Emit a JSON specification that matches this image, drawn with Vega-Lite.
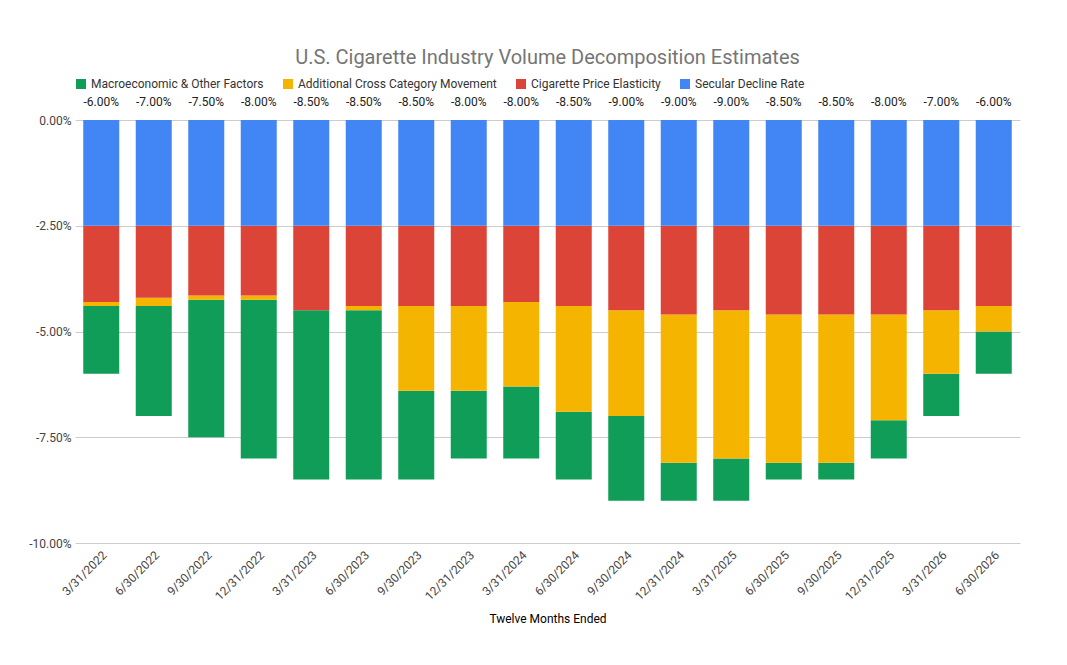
{
"$schema":"https://vega.github.io/schema/vega-lite/v6.json",
"width":945,"height":423,
"padding":{"left":28,"top":48,"right":25,"bottom":10},
"background":"white",
"title":{"text":"U.S. Cigarette Industry Volume Decomposition Estimates","font":"Roboto","fontSize":20,"fontWeight":"normal","color":"#757575","offset":10},
"config":{"font":"Roboto","view":{"stroke":null},"locale":{"number":{"decimal":".","thousands":",","grouping":[3],"currency":["$",""],"minus":"-"}}},
"datasets":{"raw":[
{"d":"3/31/2022","s":-0.025,"p":-0.018,"a":-0.001,"m":-0.016},
{"d":"6/30/2022","s":-0.025,"p":-0.017,"a":-0.002,"m":-0.026},
{"d":"9/30/2022","s":-0.025,"p":-0.0165,"a":-0.001,"m":-0.0325},
{"d":"12/31/2022","s":-0.025,"p":-0.0165,"a":-0.001,"m":-0.0375},
{"d":"3/31/2023","s":-0.025,"p":-0.02,"a":0,"m":-0.04},
{"d":"6/30/2023","s":-0.025,"p":-0.019,"a":-0.001,"m":-0.04},
{"d":"9/30/2023","s":-0.025,"p":-0.019,"a":-0.02,"m":-0.021},
{"d":"12/31/2023","s":-0.025,"p":-0.019,"a":-0.02,"m":-0.016},
{"d":"3/31/2024","s":-0.025,"p":-0.018,"a":-0.02,"m":-0.017},
{"d":"6/30/2024","s":-0.025,"p":-0.019,"a":-0.025,"m":-0.016},
{"d":"9/30/2024","s":-0.025,"p":-0.02,"a":-0.025,"m":-0.02},
{"d":"12/31/2024","s":-0.025,"p":-0.021,"a":-0.035,"m":-0.009},
{"d":"3/31/2025","s":-0.025,"p":-0.02,"a":-0.035,"m":-0.01},
{"d":"6/30/2025","s":-0.025,"p":-0.021,"a":-0.035,"m":-0.004},
{"d":"9/30/2025","s":-0.025,"p":-0.021,"a":-0.035,"m":-0.004},
{"d":"12/31/2025","s":-0.025,"p":-0.021,"a":-0.025,"m":-0.009},
{"d":"3/31/2026","s":-0.025,"p":-0.02,"a":-0.015,"m":-0.01},
{"d":"6/30/2026","s":-0.025,"p":-0.019,"a":-0.006,"m":-0.01}
]},
"data":{"name":"raw"},
"transform":[
{"fold":["m","a","p","s"],"as":["k","value"]},
{"lookup":"k","from":{"data":{"values":[
{"k":"m","f":"Macroeconomic & Other Factors","o":4},
{"k":"a","f":"Additional Cross Category Movement","o":3},
{"k":"p","f":"Cigarette Price Elasticity","o":2},
{"k":"s","f":"Secular Decline Rate","o":1}]},"key":"k","fields":["f","o"]}}
],
"encoding":{"x":{"field":"d","type":"nominal","sort":null,"title":"Twelve Months Ended",
"axis":{"labelAngle":-45,"labelColor":"#444","labelFontSize":12,"titleFontWeight":"normal","titleFontSize":12,"titlePadding":12,"domain":false,"ticks":false,"labelPadding":6}}},
"layer":[
{"mark":{"type":"bar","width":36},
"encoding":{
"y":{"field":"value","type":"quantitative","aggregate":"sum","stack":"zero","scale":{"domain":[-0.1,0]},"title":null,
"axis":{"format":".2%","values":[0,-0.025,-0.05,-0.075,-0.1],"labelColor":"#444","labelFontSize":12,"domain":false,"ticks":false,"gridColor":"#ccc","labelPadding":4}},
"color":{"field":"f","type":"nominal","sort":["Macroeconomic & Other Factors","Additional Cross Category Movement","Cigarette Price Elasticity","Secular Decline Rate"],
"scale":{"range":["#0f9d58","#f4b400","#db4437","#4285f4"]},
"legend":{"orient":"top","title":null,"symbolType":"square","labelFontSize":12,"labelColor":"#333","labelLimit":300,"direction":"horizontal","offset":30,"columnPadding":18}},
"order":{"field":"o","type":"quantitative","aggregate":"min"}}},
{"mark":{"type":"rule","color":"#333"},"encoding":{"y":{"datum":0}}},
{"mark":{"type":"text","dy":-18,"fontSize":12,"color":"#222"},
"encoding":{"y":{"datum":0},"text":{"field":"value","aggregate":"sum","type":"quantitative","format":".2%"}}}
]
}
